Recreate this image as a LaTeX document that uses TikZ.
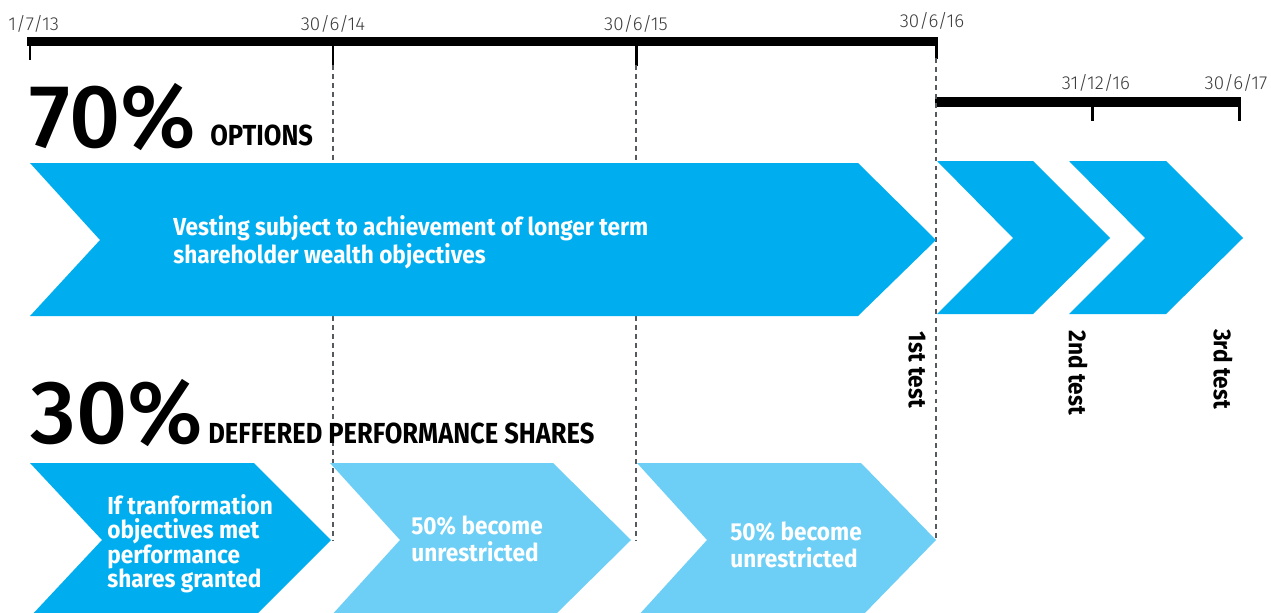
\documentclass[tikz,border=0pt]{standalone}
\usepackage{fontspec}
\setmainfont{Fira Sans}[FakeStretch=0.92]
\newfontfamily\headfont{Fira Sans}[FakeStretch=0.88]
\newfontfamily\datefont{Fira Sans Light}
\newfontfamily\bignum{Fira Sans Medium}
\usepackage{tikz}

\definecolor{vestblue}{RGB}{0,174,239}
\definecolor{shareblue}{RGB}{109,207,246}
\definecolor{dategray}{RGB}{60,60,60}
\definecolor{guidegray}{RGB}{85,90,95}

\tikzset{
  bar/.style={line width=5.2pt},
  tick/.style={line width=1.7pt},
  guide/.style={guidegray, line width=0.85pt, dash pattern=on 2.8pt off 2.3pt},
  datelbl/.style={font=\datefont\fontsize{10.7}{12}\selectfont, text=dategray, inner sep=0pt, anchor=base},
  bigpct/.style={font=\bignum\fontsize{51}{51}\selectfont, inner sep=0pt, anchor=base west},
  heading/.style={font=\headfont\bfseries\fontsize{16.5}{18}\selectfont, inner sep=0pt, anchor=base west},
  intext/.style={font=\bfseries\fontsize{14}{15.9}\selectfont, text=white, align=left, inner sep=0pt, anchor=north west},
  testlbl/.style={font=\bfseries\fontsize{14}{16}\selectfont, rotate=-90, inner sep=0pt}
}

\begin{document}
\begin{tikzpicture}[x=0.02cm, y=-0.02cm]
\useasboundingbox (0,0) rectangle (1271,612);
\clip (0,0) rectangle (1271,612);

% timelines
\coordinate (t13) at (30,41.5);
\coordinate (t14) at (333,41.5);
\coordinate (t15) at (636,41.5);
\coordinate (t16) at (936,41.5);
\coordinate (u16) at (936,102);
\coordinate (u16b) at (1092,102);
\coordinate (u17) at (1239,102);
\draw[bar] (27,41.5) -- (938,41.5);
\draw[bar, line width=5.7pt] (935,102) -- (1240.5,102);
\draw[tick] (t13) -- ++(0,18);
\draw[tick] (t14) -- ++(0,24);
\draw[tick] (t15) -- ++(0,24);
\draw[tick] (t16) -- ++(0,17);
\draw[tick] (u16b) -- ++(0,19);
\draw[tick] (u17) -- ++(0,19);

\node[datelbl, anchor=base west] (d13) at (8,31) {1/7/13};
\node[datelbl] (d14) at (333,31) {30/6/14};
\node[datelbl] (d15) at (636,31) {30/6/15};
\node[datelbl] (d16) at (932,28) {30/6/16};
\node[datelbl] (d16b) at (1096,89) {31/12/16};
\node[datelbl] (d17) at (1236,89) {30/6/17};

% guides
\draw[guide] (333,65) -- (333,540);
\draw[guide] (636,65) -- (636,540);
\draw[guide] (936,58) -- (936,540);

% options
\fill[vestblue] (30,163) -- (858,163) -- (936,240) -- (858,316) -- (30,316) -- (100,240) -- cycle;
\fill[vestblue] (937,161) -- (1033,161) -- (1110,238) -- (1033,314) -- (937,314) -- (1013,238) -- cycle;
\fill[vestblue] (1069,161) -- (1166,161) -- (1243,238) -- (1166,314) -- (1069,314) -- (1145,238) -- cycle;

\node[bigpct] (p70) at (29,147) {70\%};
\node[heading] (opt) at (210,145) {OPTIONS};
\node[intext] (vest) at (173,215.5) {Vesting subject to achievement of longer term\\shareholder wealth objectives};

\node[testlbl] (test1) at (917,370) {1st test};
\node[testlbl] (test2) at (1078,373) {2nd test};
\node[testlbl] (test3) at (1223,369) {3rd test};

% shares
\fill[vestblue] (30,463) -- (254,463) -- (331,540) -- (254,617) -- (30,617) -- (102,540) -- cycle;
\fill[shareblue] (330,463) -- (553,463) -- (631,540) -- (553,617) -- (330,617) -- (400,540) -- cycle;
\fill[shareblue] (637,463) -- (861,463) -- (936,540) -- (861,617) -- (637,617) -- (707,540) -- cycle;

\node[bigpct] (p30) at (30,443) {30\%};
\node[heading] (dps) at (208,443) {DEFFERED PERFORMANCE SHARES};
\node[intext, font=\bfseries\fontsize{14}{13.9}\selectfont] (grant) at (107,494) {If tranformation\\objectives met\\performance\\shares granted};
\node[intext] (half1) at (411,515) {50\% become\\unrestricted};
\node[intext] (half2) at (730,521) {50\% become\\unrestricted};
\end{tikzpicture}
\end{document}
